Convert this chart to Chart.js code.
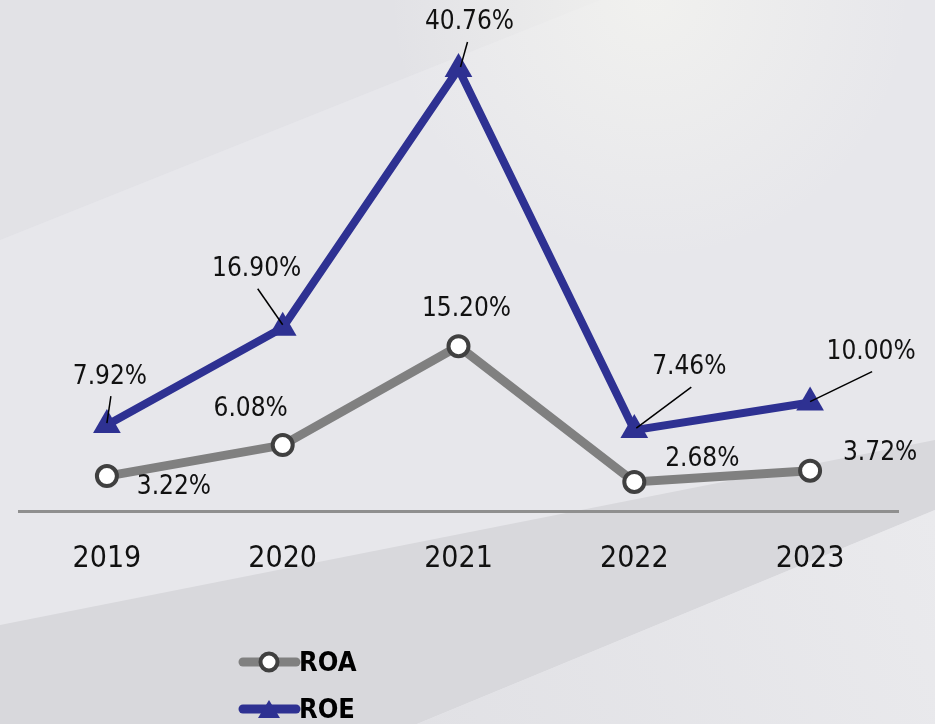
<!DOCTYPE html>
<html>
<head>
<meta charset="utf-8">
<script src="https://cdn.jsdelivr.net/npm/chart.js@4.4.1/dist/chart.umd.min.js"></script>
<style>
  html, body { margin: 0; padding: 0; background: #e6e6ea; }
  #wrap { width: 935px; height: 724px; position: relative; }
</style>
</head>
<body>
<div id="wrap"><canvas id="roaRoeChart" width="935" height="724"></canvas></div>
<script>
// Datos del gráfico
const years = ['2019', '2020', '2021', '2022', '2023'];
const roaValues = [3.22, 6.08, 15.20, 2.68, 3.72];
const roeValues = [7.92, 16.90, 40.76, 7.46, 10.00];

// Posición de las etiquetas respecto al punto (texto dx, dy; línea guía desde / hasta)
const roeLabelPos = [
    { tx: 3, ty: -48, l: [4, -29, 0, -2] },
    { tx: -26, ty: -58, l: [-25, -39, 0, -3] },
    { tx: 11, ty: -47, l: [9, -27, 2, -2] },
    { tx: 55, ty: -63, l: [57, -43, 2, -2] },
    { tx: 61, ty: -50, l: [62, -31, 0, -1] }
];
const roaLabelPos = [
    { tx: 67, ty: 11 },
    { tx: -32, ty: -36 },
    { tx: 8, ty: -37 },
    { tx: 68, ty: -23 },
    { tx: 70, ty: -17 }
];

const FONT = '"DejaVu Sans Condensed", "DejaVu Sans", sans-serif';
const ROE_COLOR = '#2e3192';
const ROA_COLOR = '#808080';

// Fondo gris con bandas diagonales
const backgroundPlugin = {
    id: 'background',
    beforeDraw(chart) {
        const ctx = chart.ctx;
        const w = chart.width, h = chart.height;
        ctx.save();
        ctx.fillStyle = '#e7e7eb';
        ctx.fillRect(0, 0, w, h);

        // zona superior izquierda algo más oscura
        ctx.fillStyle = 'rgba(210,210,216,0.25)';
        ctx.beginPath();
        ctx.moveTo(0, 0); ctx.lineTo(600, 0); ctx.lineTo(0, 240);
        ctx.closePath(); ctx.fill();

        // brillo arriba a la derecha
        const rg = ctx.createRadialGradient(650, 0, 10, 650, 0, 260);
        rg.addColorStop(0, 'rgba(242,242,239,0.85)');
        rg.addColorStop(1, 'rgba(242,242,239,0)');
        ctx.fillStyle = rg;
        ctx.fillRect(300, 0, 635, 300);

        // banda oscura inferior
        ctx.fillStyle = '#d8d8dc';
        ctx.beginPath();
        ctx.moveTo(0, 625); ctx.lineTo(935, 440); ctx.lineTo(935, 510);
        ctx.lineTo(417, 724); ctx.lineTo(0, 724);
        ctx.closePath(); ctx.fill();

        // zona clara inferior derecha
        const g = ctx.createLinearGradient(417, 724, 935, 510);
        g.addColorStop(0, '#e1e1e5');
        g.addColorStop(1, '#eaeaed');
        ctx.fillStyle = g;
        ctx.beginPath();
        ctx.moveTo(417, 724); ctx.lineTo(935, 510); ctx.lineTo(935, 724);
        ctx.closePath(); ctx.fill();
        ctx.restore();
    }
};

// Etiquetas de datos con líneas guía
const labelsPlugin = {
    id: 'valueLabels',
    afterDatasetsDraw(chart) {
        const ctx = chart.ctx;
        ctx.save();
        ctx.font = '26px ' + FONT;
        ctx.fillStyle = '#111';
        ctx.textAlign = 'center';
        ctx.textBaseline = 'middle';
        const roeMeta = chart.getDatasetMeta(0);
        const roaMeta = chart.getDatasetMeta(1);
        roeMeta.data.forEach((pt, i) => {
            const p = roeLabelPos[i];
            ctx.fillText(roeValues[i].toFixed(2) + '%', pt.x + p.tx, pt.y + p.ty);
            ctx.strokeStyle = '#000';
            ctx.lineWidth = 1.5;
            ctx.beginPath();
            ctx.moveTo(pt.x + p.l[0], pt.y + p.l[1]);
            ctx.lineTo(pt.x + p.l[2], pt.y + p.l[3]);
            ctx.stroke();
        });
        roaMeta.data.forEach((pt, i) => {
            const p = roaLabelPos[i];
            ctx.fillText(roaValues[i].toFixed(2) + '%', pt.x + p.tx, pt.y + p.ty);
        });
        ctx.restore();
    }
};

// Leyenda propia (línea + marcador)
const legendPlugin = {
    id: 'customLegend',
    afterDraw(chart) {
        const ctx = chart.ctx;
        ctx.save();
        ctx.lineCap = 'round';
        // ROA
        ctx.strokeStyle = ROA_COLOR;
        ctx.lineWidth = 9;
        ctx.beginPath(); ctx.moveTo(243, 662); ctx.lineTo(296, 662); ctx.stroke();
        ctx.fillStyle = '#fff';
        ctx.strokeStyle = '#404040';
        ctx.lineWidth = 4;
        ctx.beginPath(); ctx.arc(269, 662, 8.5, 0, Math.PI * 2); ctx.fill(); ctx.stroke();
        // ROE
        ctx.strokeStyle = ROE_COLOR;
        ctx.lineWidth = 9;
        ctx.beginPath(); ctx.moveTo(243, 709); ctx.lineTo(296, 709); ctx.stroke();
        ctx.fillStyle = ROE_COLOR;
        ctx.beginPath();
        ctx.moveTo(269, 700); ctx.lineTo(280, 718); ctx.lineTo(258, 718);
        ctx.closePath(); ctx.fill();

        ctx.fillStyle = '#000';
        ctx.font = 'bold 27px ' + FONT;
        ctx.textAlign = 'left';
        ctx.textBaseline = 'middle';
        ctx.fillText('ROA', 299, 664);
        ctx.fillText('ROE', 299, 711);
        ctx.restore();
    }
};

let ratioChart = null;

function initRatioChart() {
    const ctx = document.getElementById('roaRoeChart').getContext('2d');
    ratioChart = new Chart(ctx, {
        type: 'line',
        data: {
            labels: years,
            datasets: [
                {
                    label: 'ROE',
                    data: roeValues,
                    borderColor: ROE_COLOR,
                    backgroundColor: ROE_COLOR,
                    borderWidth: 8,
                    pointStyle: 'triangle',
                    pointRadius: 16,
                    pointBorderWidth: 0,
                    pointBackgroundColor: ROE_COLOR,
                    tension: 0,
                    order: 0
                },
                {
                    label: 'ROA',
                    data: roaValues,
                    borderColor: ROA_COLOR,
                    borderWidth: 9,
                    pointStyle: 'circle',
                    pointRadius: 10,
                    pointBorderWidth: 4,
                    pointBorderColor: '#404040',
                    pointBackgroundColor: '#ffffff',
                    tension: 0,
                    order: 1
                }
            ]
        },
        options: {
            responsive: false,
            animation: false,
            layout: {
                padding: { top: 23, left: 19, right: 37, bottom: 0 }
            },
            plugins: {
                legend: { display: false },
                tooltip: { enabled: false }
            },
            scales: {
                y: {
                    display: false,
                    min: 0,
                    max: 45
                },
                x: {
                    offset: true,
                    afterFit(scale) { scale.height = 213; },
                    grid: { display: false },
                    border: { display: true, color: '#8f8f8f', width: 3 },
                    ticks: {
                        color: '#111',
                        padding: 22,
                        font: { family: FONT, size: 30 }
                    }
                }
            }
        },
        plugins: [backgroundPlugin, labelsPlugin, legendPlugin]
    });
}

initRatioChart();
</script>
</body>
</html>
